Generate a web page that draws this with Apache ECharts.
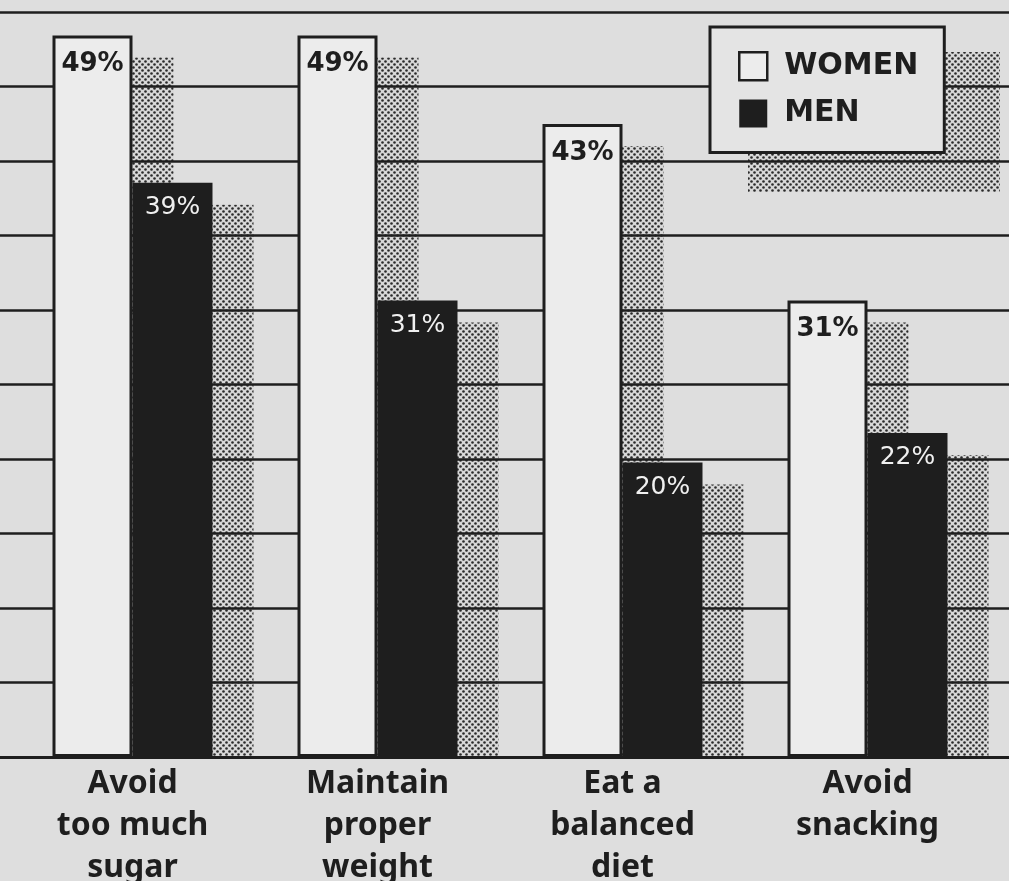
<!DOCTYPE html>
<html>
<head>
<meta charset="utf-8">
<script src="https://cdn.jsdelivr.net/npm/echarts@6/dist/echarts.min.js"></script>
<style>
html, body { margin: 0; padding: 0; background: #dedede; }
#main { width: 1009px; height: 881px; }
</style>
</head>
<body>
<div id="main"></div>
<script>
// data
var categories = ['Avoid\ntoo much\nsugar', 'Maintain\nproper\nweight', 'Eat a\nbalanced\ndiet', 'Avoid\nsnacking'];
var women = [49, 49, 43, 31];
var men = [39, 31, 20, 22];
var ruleTicks = [0, 50, 5]; // min, max, interval of the ruled lines
var barMax = 50.6;          // value scale of the bars (the rules are drawn a bit off the values)

var ink = '#1e1e1e';
var font = 'Noto Sans';
var wideFont = 'DejaVu Sans';
var barW = 80;
var shadowDx = 41, shadowDy = 22;

// halftone dot pattern for the drop shadows
function dots() {
	var c = document.createElement('canvas');
	c.width = 6;
	c.height = 6;
	var g = c.getContext('2d');
	g.fillStyle = '#d8d8d8';
	g.fillRect(0, 0, 6, 6);
	g.fillStyle = '#2a2a2a';
	[[1.5, 1.5], [4.5, 4.5]].forEach(function(p) {
		g.beginPath();
		g.arc(p[0], p[1], 1.3, 0, Math.PI * 2);
		g.fill();
	});
	return c;
}
var pattern = { image: dots(), repeat: 'repeat' };

var shadowData = categories.map(function(c, i) {
	return [i, women[i], men[i]];
});

var myChart = echarts.init(document.getElementById('main'));
var option = {
	backgroundColor : '#dedede',
	animation : false,
	grid : [ {
		left : 0, right : 0, top : 12, bottom : 124,
		outerBoundsMode : 'none'
	}, {
		left : 10, right : 19, top : 12, bottom : 124,
		outerBoundsMode : 'none'
	} ],
	legend : {
		orient : 'vertical',
		left : 710,
		top : 27,
		padding : [ 24, 26, 24, 28 ],
		itemWidth : 28,
		itemHeight : 28,
		itemGap : 17,
		backgroundColor : '#e4e4e4',
		borderColor : ink,
		borderWidth : 3,
		borderRadius : 0,
		textStyle : {
			fontFamily : wideFont,
			fontWeight : 'bold',
			fontSize : 30,
			color : ink,
			padding : [0, 0, 0, 12]
		},
		data : [ {
			name : 'WOMEN',
			icon : 'rect',
			itemStyle : { color : '#ececec', borderColor : ink, borderWidth : 2.5 }
		}, {
			name : 'MEN',
			icon : 'rect',
			itemStyle : { color : ink, borderWidth : 0 }
		} ]
	},
	graphic : [ {
		type : 'rect',
		z : 0,
		shape : { x : 748, y : 52, width : 252, height : 140 },
		style : { fill : pattern }
	} ],
	xAxis : [ {
		type : 'category',
		gridIndex : 0,
		data : categories,
		axisLine : { show : true, lineStyle : { color : ink, width : 3 } },
		axisTick : { show : false },
		axisLabel : { show : false },
		z : 3
	}, {
		type : 'category',
		gridIndex : 1,
		data : categories,
		axisLine : { show : false },
		axisTick : { show : false },
		axisLabel : {
			margin : 6,
			fontFamily : font,
			fontWeight : 'bold',
			fontSize : 32,
			lineHeight : 42,
			color : ink
		}
	} ],
	yAxis : [ {
		type : 'value',
		gridIndex : 0,
		min : ruleTicks[0],
		max : ruleTicks[1],
		interval : ruleTicks[2],
		z : 1,
		axisLine : { show : false },
		axisTick : { show : false },
		axisLabel : { show : false },
		splitLine : { lineStyle : { color : ink, width : 2.5 } }
	}, {
		type : 'value',
		gridIndex : 1,
		min : 0,
		max : barMax,
		show : false,
		splitLine : { show : false }
	} ],
	series : [ {
		name : 'shadow',
		type : 'custom',
		xAxisIndex : 1,
		yAxisIndex : 1,
		z : 0,
		silent : true,
		data : shadowData,
		renderItem : function(params, api) {
			var i = api.value(0);
			var base = api.coord([ i, 0 ]);
			var w = api.coord([ i, api.value(1) ]);
			var m = api.coord([ i, api.value(2) ]);
			var cx = base[0];
			return {
				type : 'group',
				children : [ {
					type : 'rect',
					shape : { x : cx - barW + shadowDx, y : w[1] + shadowDy, width : barW, height : base[1] - w[1] - shadowDy },
					style : { fill : pattern }
				}, {
					type : 'rect',
					shape : { x : cx + shadowDx, y : m[1] + shadowDy, width : barW, height : base[1] - m[1] - shadowDy },
					style : { fill : pattern }
				} ]
			};
		}
	}, {
		name : 'WOMEN',
		type : 'bar',
		xAxisIndex : 1,
		yAxisIndex : 1,
		z : 2,
		barWidth : barW,
		barGap : '0%',
		data : women,
		itemStyle : { color : '#ececec', borderColor : ink, borderWidth : 3 },
		label : {
			show : true,
			position : 'insideTop',
			distance : 16,
			formatter : '{c}%',
			fontFamily : wideFont,
			fontWeight : 'bold',
			fontSize : 26,
			color : ink
		}
	}, {
		name : 'MEN',
		type : 'bar',
		xAxisIndex : 1,
		yAxisIndex : 1,
		z : 2,
		barWidth : barW,
		barGap : '0%',
		data : men,
		itemStyle : { color : ink },
		label : {
			show : true,
			position : 'insideTop',
			distance : 12,
			formatter : '{c}%',
			fontFamily : wideFont,
			fontSize : 25,
			color : '#f0f0f0'
		}
	} ]
};
myChart.setOption(option);
</script>
</body>
</html>
